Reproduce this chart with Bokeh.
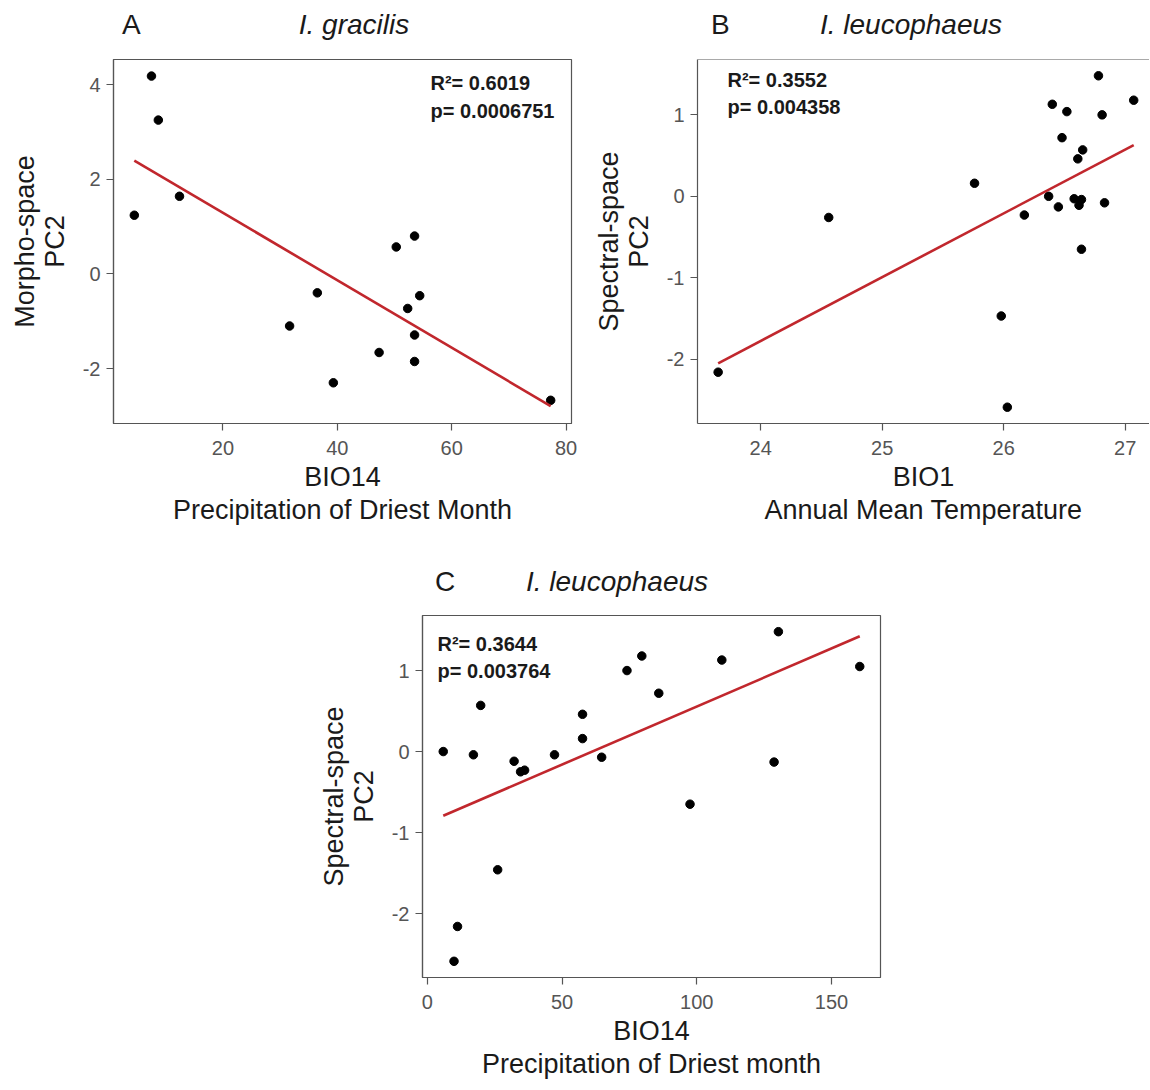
import numpy as np
from bokeh.plotting import figure
from bokeh.models import Label, Span, FixedTicker, Spacer, Div
from bokeh.layouts import column, row
from bokeh.embed import file_html
from bokeh.resources import INLINE

FONT = "Liberation Sans"

# ---------------- data ----------------
# Panel A: I. gracilis
a_bio14 = [4.5, 7.5, 8.7, 12.4, 31.65, 36.5, 39.3, 47.3, 50.3, 52.3, 53.5, 54.4, 53.5, 53.5, 77.3]
a_pc2 = [1.24, 4.18, 3.25, 1.64, -1.10, -0.40, -2.30, -1.66, 0.57, -0.73, 0.80, -0.46, -1.29, -1.85, -2.67]
a_xticks = [20, 40, 60, 80]
a_yticks = [-2, 0, 2, 4]
a_xrange = (0.86, 80.94)
a_yrange = (-3.16, 4.53)
a_stats = ["R\u00b2= 0.6019", "p= 0.0006751"]

# Panel B: I. leucophaeus vs BIO1
b_bio1 = [23.65, 24.56, 25.76, 25.98, 26.03, 26.17, 26.37, 26.40, 26.45, 26.48, 26.52,
          26.58, 26.61, 26.62, 26.64, 26.64, 26.65, 26.78, 26.81, 26.83, 27.07]
b_pc2 = [-2.16, -0.26, 0.16, -1.47, -2.59, -0.23, 0.00, 1.13, -0.13, 0.72, 1.04,
         -0.03, 0.46, -0.11, -0.04, -0.65, 0.57, 1.48, 1.00, -0.08, 1.18]
b_xticks = [24, 25, 26, 27]
b_yticks = [-2, -1, 0, 1]
b_xrange = (23.48, 27.20)
b_yrange = (-2.79, 1.68)
b_stats = ["R\u00b2= 0.3552", "p= 0.004358"]

# Panel C: I. leucophaeus vs BIO14
c_bio14 = [5.9, 9.9, 11.2, 17.1, 19.8, 26.1, 32.2, 34.6, 36.1, 47.2, 57.6,
           57.6, 64.7, 74.1, 79.6, 85.9, 97.5, 109.3, 128.7, 130.3, 160.5]
c_pc2 = [0.00, -2.59, -2.16, -0.04, 0.57, -1.46, -0.12, -0.25, -0.23, -0.04, 0.46,
         0.16, -0.07, 1.00, 1.18, 0.72, -0.65, 1.13, -0.13, 1.48, 1.05]
c_xticks = [0, 50, 100, 150]
c_yticks = [-2, -1, 0, 1]
c_xrange = (-1.8, 168.2)
c_yrange = (-2.79, 1.68)
c_stats = ["R\u00b2= 0.3644", "p= 0.003764"]

AXIS_COL = "#555555"
TICKLAB_COL = "#555555"
TEXT_COL = "#1a1a1a"
LINE_COL = "#C1272D"


def add_text(p, x, y, text, size="20px", style="bold", align="left", color=TEXT_COL):
    p.add_layout(Label(x=x, y=y, x_units="screen", y_units="screen", text=text,
                       text_font=FONT, text_font_size=size, text_font_style=style,
                       text_color=color, text_align=align, text_baseline="middle"))


def title_div(width, height, letter, letter_x, species, species_cx, cy):
    top = cy - 16
    html = (
        f'<div style="position:relative;width:{width}px;height:{height}px;'
        f"font-family:'{FONT}';font-size:28px;color:{TEXT_COL};\">"
        f'<span style="position:absolute;left:{letter_x}px;top:{top}px;line-height:32px;">{letter}</span>'
        f'<span style="position:absolute;left:{species_cx}px;top:{top}px;line-height:32px;'
        f'transform:translateX(-50%);font-style:italic;white-space:nowrap;">{species}</span>'
        f'</div>'
    )
    return Div(text=html, width=width, height=height, margin=0)


def make_panel(xs, ys, xr, yr, xticks, yticks, fw, fh, bl, bt, br, bb,
               stats, stats_x, stats_dy, xlab, ylab, outline=True):
    p = figure(frame_width=fw, frame_height=fh, x_range=xr, y_range=yr,
               output_backend="svg", toolbar_location=None,
               min_border_left=bl, min_border_top=bt, min_border_right=br,
               min_border_bottom=bb, background_fill_color="white",
               border_fill_color="white", margin=0)
    p.grid.visible = False
    if outline:
        p.outline_line_color = AXIS_COL
        p.outline_line_width = 1.2
    else:
        p.outline_line_color = None
        p.add_layout(Span(location=yr[1], dimension="width",
                          line_color=AXIS_COL, line_width=1.2))
    p.xaxis.ticker = FixedTicker(ticks=xticks)
    p.yaxis.ticker = FixedTicker(ticks=yticks)
    p.xaxis.major_label_overrides = {t: str(t) for t in xticks}
    p.yaxis.major_label_overrides = {t: str(t) for t in yticks}
    for ax in (p.xaxis[0], p.yaxis[0]):
        ax.axis_line_color = AXIS_COL
        ax.axis_line_width = 1.2
        ax.major_tick_line_color = AXIS_COL
        ax.major_tick_line_width = 1.2
        ax.major_tick_out = 7
        ax.major_tick_in = 0
        ax.minor_tick_line_color = None
        ax.major_label_text_font = FONT
        ax.major_label_text_font_size = "20px"
        ax.major_label_text_color = TICKLAB_COL
        ax.axis_label_text_font = FONT
        ax.axis_label_text_font_size = "27px"
        ax.axis_label_text_font_style = "normal"
        ax.axis_label_text_color = TEXT_COL
    p.xaxis.axis_label_text_line_height = 1.12
    p.yaxis.axis_label_text_line_height = 1.0
    p.xaxis.major_label_standoff = 10
    p.yaxis.major_label_standoff = 6
    p.xaxis.axis_label = xlab
    p.yaxis.axis_label = ylab
    p.xaxis.axis_label_standoff = 4
    p.yaxis.axis_label_standoff = 10

    # points
    p.scatter(xs, ys, size=8.5, color="black", line_color="black")
    # least squares fit line over the data range
    slope, intercept = np.polyfit(xs, ys, 1)
    fx = np.array([min(xs), max(xs)])
    p.line(fx, slope * fx + intercept, line_color=LINE_COL, line_width=2.6)

    # stats
    add_text(p, stats_x, fh - stats_dy[0], stats[0])
    add_text(p, stats_x, fh - stats_dy[1], stats[1])
    return p


# Row 1 -------------------------------------------------------------
pA = make_panel(a_bio14, a_pc2, a_xrange, a_yrange, a_xticks, a_yticks,
                458, 364, 113, 5, 14, 133,
                a_stats, 317, (23, 51),
                "BIO14\nPrecipitation of Driest Month", "Morpho-space\nPC2")
divA = title_div(585, 54, "A", 122, "I. gracilis", 354, 25)

pB = make_panel(b_bio1, b_pc2, b_xrange, b_yrange, b_xticks, b_yticks,
                452, 364, 112, 5, 0, 133,
                b_stats, 30, (20, 47),
                "BIO1\nAnnual Mean Temperature", "Spectral-space\nPC2",
                outline=False)
divB = title_div(564, 54, "B", 126, "I. leucophaeus", 326, 25)

# Row 2 -------------------------------------------------------------
pC = make_panel(c_bio14, c_pc2, c_xrange, c_yrange, c_xticks, c_yticks,
                458, 362, 112, 5, 10, 100,
                c_stats, 15, (28, 55),
                "BIO14\nPrecipitation of Driest month", "Spectral-space\nPC2")
divC = title_div(580, 54, "C", 125, "I. leucophaeus", 307, 26)

layout = column(
    row(column(divA, pA, spacing=0), column(divB, pB, spacing=0), spacing=0),
    row(Spacer(width=310, height=10), column(divC, pC, spacing=0), spacing=0),
    spacing=0,
)

open("out.html", "w").write(file_html(layout, INLINE))
